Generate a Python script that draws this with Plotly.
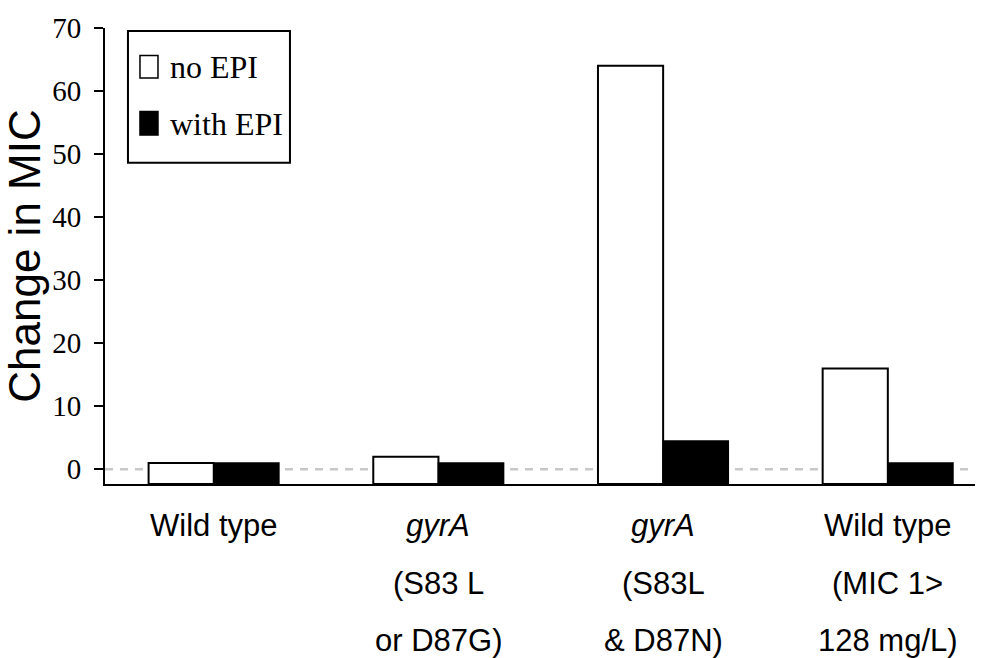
import plotly.graph_objects as go

# Fold change in MIC per strain group, without and with the efflux pump inhibitor
groups = [0, 1, 2, 3]
label_lines = [
    ["Wild type", "", ""],
    ["<i>gyrA</i>", "(S83 L", "or D87G)"],
    ["<i>gyrA</i>", "(S83L", "& D87N)"],
    ["Wild type", "(MIC 1>", "128 mg/L)"],
]
no_epi = [1, 2, 64, 16]
with_epi = [1, 1, 4.5, 1]
y_ticks = [0, 10, 20, 30, 40, 50, 60, 70]
series_names = ["no EPI", "with EPI"]
series_fills = ["white", "black"]

Y_MIN, Y_MAX = -2.34, 70
X_MIN, X_MAX = -0.484, 3.388

SANS = "Liberation Sans, Arial, sans-serif"
SERIF = "Liberation Serif, Times New Roman, serif"

fig = go.Figure()

# bars rise from the bottom of the axis, so base them at the axis minimum
for name, fill, vals, lw in zip(series_names, series_fills, [no_epi, with_epi], [2, 1.5]):
    fig.add_trace(go.Bar(
        x=groups, y=[v - Y_MIN for v in vals], base=Y_MIN, name=name,
        marker=dict(color=fill, line=dict(color="black", width=lw)),
    ))

# dashed reference line at zero change
fig.add_shape(type="line", xref="paper", x0=0, x1=1, yref="y", y0=0, y1=0,
              line=dict(color="#c8c8c8", width=2.5, dash="8px,7px"), layer="below")

# multi-line category labels under the axis
row_shift = [-41, -99, -156]
for g, lines in zip(groups, label_lines):
    for r, txt in enumerate(lines):
        if not txt:
            continue
        fig.add_annotation(x=g, xref="x", y=0, yref="paper", yanchor="middle",
                           yshift=row_shift[r], text=txt, showarrow=False,
                           font=dict(family=SANS, size=31, color="black"))

# boxed key in the upper left corner
fig.add_shape(type="rect", xref="paper", yref="paper", x0=0.0264, x1=0.2126,
              y0=0.7047, y1=0.9935, line=dict(color="black", width=2),
              fillcolor="white", layer="above")
key_rows = [(0.8901, 0.9397, 0.9138), (0.7651, 0.8168, 0.7888)]
for name, fill, (k0, k1, ty) in zip(series_names, series_fills, key_rows):
    fig.add_shape(type="rect", xref="paper", yref="paper", x0=0.0402, x1=0.0609,
                  y0=k0, y1=k1, line=dict(color="black", width=1.5),
                  fillcolor=fill, layer="above")
    fig.add_annotation(x=0.0724, y=ty, xref="paper", yref="paper", xanchor="left",
                       yanchor="middle", text=name, showarrow=False,
                       font=dict(family=SERIF, size=32, color="black"))

fig.update_layout(
    width=987, height=658,
    margin=dict(l=105, r=12, t=20, b=174),
    plot_bgcolor="white", paper_bgcolor="white",
    barmode="group", bargap=0.42, bargroupgap=0,
    showlegend=False,
    xaxis=dict(
        range=[X_MIN, X_MAX], showticklabels=False, ticks="",
        showline=True, linecolor="black", linewidth=2, showgrid=False, zeroline=False,
    ),
    yaxis=dict(
        range=[Y_MIN, Y_MAX], tickvals=y_ticks, ticks="outside", ticklen=9,
        tickwidth=2, tickcolor="black", showline=True, linecolor="black", linewidth=2,
        showgrid=False, zeroline=False, ticklabelstandoff=7,
        tickfont=dict(family=SERIF, size=29, color="black"),
        title=dict(text="Change in MIC", standoff=0,
                   font=dict(family=SANS, size=44, color="black")),
    ),
)

fig.write_html("out.html")
